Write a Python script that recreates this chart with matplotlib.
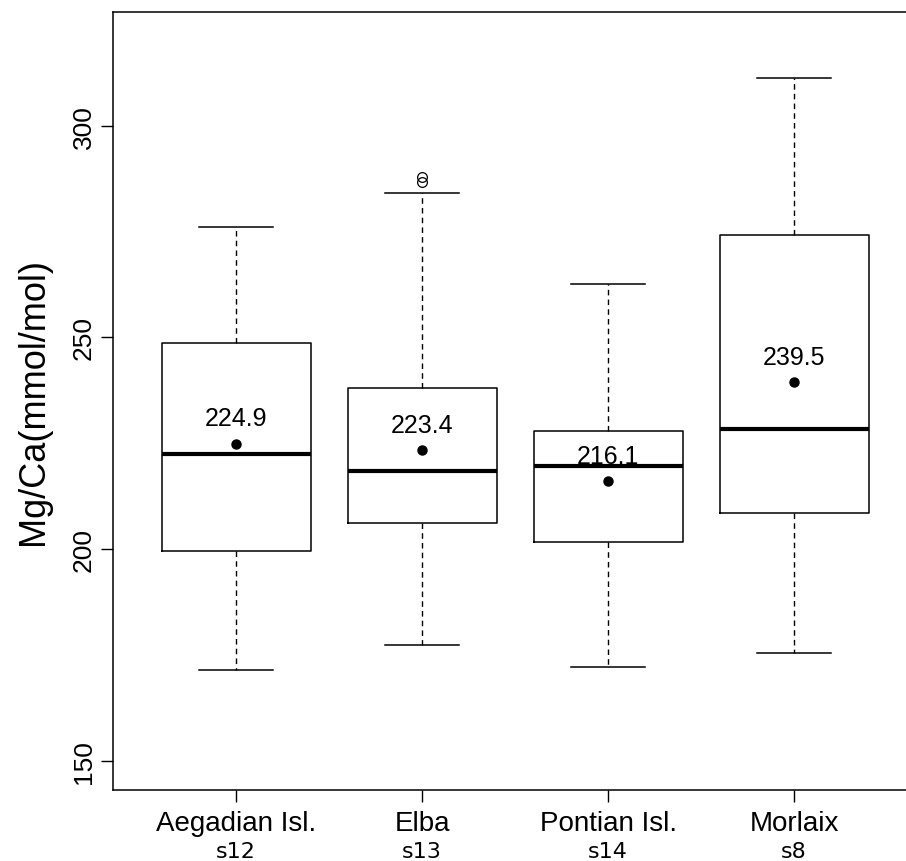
import matplotlib
matplotlib.use("Agg")
import matplotlib.pyplot as plt
from matplotlib.transforms import blended_transform_factory

# data
sites = ["Aegadian Isl.", "Elba", "Pontian Isl.", "Morlaix"]
codes = ["s12", "s13", "s14", "s8"]
whislo = [171.5, 177.4, 172.1, 175.5]
q1 = [199.6, 206.2, 201.6, 208.5]
med = [222.5, 218.5, 219.6, 228.5]
q3 = [248.7, 238.1, 228.0, 274.2]
whishi = [276.2, 284.2, 262.6, 311.2]
means = [224.9, 223.4, 216.1, 239.5]
fliers = [[], [286.6, 288.0], [], []]

plt.rcParams["font.family"] = ["Liberation Sans", "DejaVu Sans"]

fig = plt.figure(figsize=(9.06, 8.62), dpi=100)
ax = fig.add_axes([0.1251, 0.0827, 0.887, 0.9019])

stats = []
for i in range(len(sites)):
    stats.append(dict(label=sites[i], whislo=whislo[i], q1=q1[i], med=med[i],
                      q3=q3[i], whishi=whishi[i], fliers=fliers[i]))

pos = list(range(1, len(sites) + 1))
ax.bxp(stats, positions=pos, widths=0.8, showfliers=True,
       boxprops=dict(color="black", linewidth=1.1),
       medianprops=dict(color="black", linewidth=3),
       whiskerprops=dict(color="black", linewidth=1.0, linestyle=(0, (4, 3))),
       capprops=dict(color="black", linewidth=1.1),
       capwidths=0.4,
       flierprops=dict(marker="o", markerfacecolor="none", markeredgecolor="black",
                       markersize=7, markeredgewidth=0.9))

ax.plot(pos, means, "o", color="black", markersize=6.5, zorder=5)
for p, m in zip(pos, means):
    ax.text(p, m + 6, "%.1f" % m, ha="center", va="center", fontsize=18)

ax.set_xlim(0.34, 4.66)
ax.set_ylim(143.2, 326.8)
ax.set_yticks([150, 200, 250, 300])
ax.set_yticklabels(["150", "200", "250", "300"], rotation=90, va="center", fontsize=19)
ax.set_xticks(pos)
ax.set_xticklabels(sites, fontsize=20)
ax.tick_params(axis="both", length=8.6, width=1.0, direction="out")
ax.tick_params(axis="y", pad=4)
ax.tick_params(axis="x", pad=6)

trans = blended_transform_factory(ax.transData, ax.transAxes)
for p, c in zip(pos, codes):
    ax.annotate(c, xy=(p, 0), xycoords=trans, xytext=(0, -44), textcoords="offset points",
                ha="center", va="center", fontsize=16, family="DejaVu Sans")

ax.set_ylabel("Mg/Ca(mmol/mol)", fontsize=26, labelpad=15)

for s in ax.spines.values():
    s.set_linewidth(1.1)

fig.savefig("out.png", dpi=100)
